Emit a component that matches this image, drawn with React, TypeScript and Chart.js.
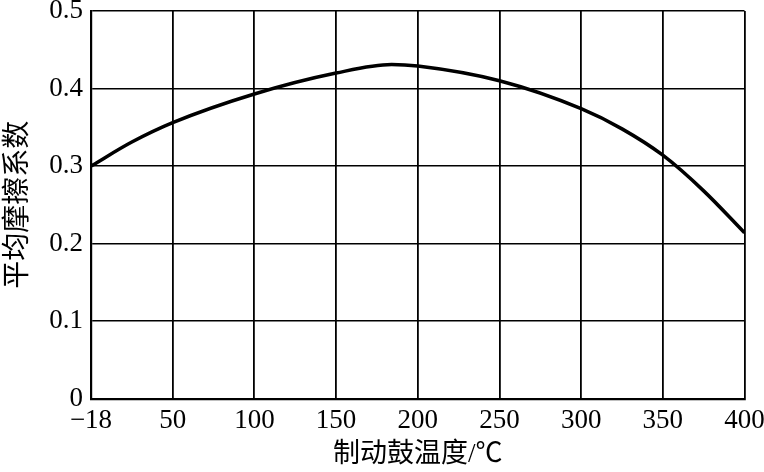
import React, { useEffect, useRef } from "react";
import { Chart, registerables } from "chart.js";

Chart.register(...registerables);

// Axis tick values (equally spaced on the axis, as in the reference)
const xTickValues = [-18, 50, 100, 150, 200, 250, 300, 350, 400];
const xTickLabels = ["\u221218", "50", "100", "150", "200", "250", "300", "350", "400"];
const yTickValues = [0, 0.1, 0.2, 0.3, 0.4, 0.5];
const yTickLabels = ["0", "0.1", "0.2", "0.3", "0.4", "0.5"];

// Curve: drum temperature (°C) vs mean friction coefficient
const curveTemps = [-18, 16, 50, 100, 150, 184, 200, 250, 300, 325, 350, 375, 400];
const curveValues = [0.3, 0.331, 0.356, 0.393, 0.42, 0.431, 0.429, 0.41, 0.374, 0.348, 0.314, 0.268, 0.214];

const xTitle = "制动鼓温度/℃";
const yTitle = "平均摩擦系数";

// map a temperature onto the equally spaced tick positions
function tempToPos(t: number): number {
  for (let i = 0; i < xTickValues.length - 1; i++) {
    const a = xTickValues[i];
    const b = xTickValues[i + 1];
    if (t >= a && t <= b) return i + (t - a) / (b - a);
  }
  return t < xTickValues[0] ? 0 : xTickValues.length - 1;
}

export default function App() {
  const ref = useRef<HTMLCanvasElement | null>(null);

  useEffect(() => {
    if (!ref.current) return;
    const points = curveTemps.map((t, i) => ({ x: tempToPos(t), y: curveValues[i] }));
    const chart = new Chart(ref.current, {
      type: "line",
      data: {
        datasets: [
          {
            data: points,
            borderColor: "#000",
            borderWidth: 3.5,
            pointRadius: 0,
            cubicInterpolationMode: "monotone",
            fill: false,
          },
        ],
      },
      options: {
        animation: false,
        responsive: false,
        maintainAspectRatio: false,
        devicePixelRatio: 1,
        layout: { padding: { top: 11, right: 19.5, bottom: 0, left: 0 } },
        plugins: { legend: { display: false }, tooltip: { enabled: false } },
        scales: {
          x: {
            type: "linear",
            min: 0,
            max: xTickValues.length - 1,
            afterBuildTicks: (scale: any) => {
              scale.ticks = xTickValues.map((_, i) => ({ value: i }));
            },
            afterFit: (scale: any) => {
              scale.height = 73.3;
              scale.paddingLeft = 0;
              scale.paddingRight = 0;
            },
            grid: { color: "#000", lineWidth: 1.8, drawTicks: false },
            border: { color: "#000", width: 2.2 },
            ticks: {
              color: "#000",
              padding: 6,
              maxRotation: 0,
              autoSkip: false,
              font: { family: "'Liberation Serif'", size: 27 },
              callback: (v: any) => xTickLabels[Math.round(Number(v))],
            },
            title: {
              display: true,
              text: xTitle,
              color: "#000",
              font: { family: "'Liberation Serif', 'Noto Sans CJK SC'", size: 27, lineHeight: 1 },
              padding: { top: 0, bottom: 4 },
            },
          },
          y: {
            type: "linear",
            min: 0,
            max: 0.5,
            afterBuildTicks: (scale: any) => {
              scale.ticks = yTickValues.map((v) => ({ value: v }));
            },
            afterFit: (scale: any) => {
              scale.width = 91;
              scale.paddingTop = 0;
              scale.paddingBottom = 0;
            },
            grid: { color: "#000", lineWidth: 1.5, drawTicks: false },
            border: { color: "#000", width: 2.2 },
            ticks: {
              color: "#000",
              padding: 8,
              font: { family: "'Liberation Serif'", size: 27 },
              callback: (v: any) => {
                const i = yTickValues.findIndex((t) => Math.abs(t - Number(v)) < 1e-9);
                return i >= 0 ? yTickLabels[i] : "";
              },
            },
            title: {
              display: true,
              text: yTitle,
              color: "#000",
              font: { family: "'Noto Sans CJK SC'", size: 28, lineHeight: 1 },
              padding: { top: 1, bottom: 0 },
            },
          },
        },
      },
    });
    return () => chart.destroy();
  }, []);

  return (
    <div style={{ position: "fixed", left: 0, top: 0, width: 764, height: 472, background: "#fff" }}>
      <canvas ref={ref} width={764} height={472} style={{ width: 764, height: 472, display: "block" }} />
    </div>
  );
}
